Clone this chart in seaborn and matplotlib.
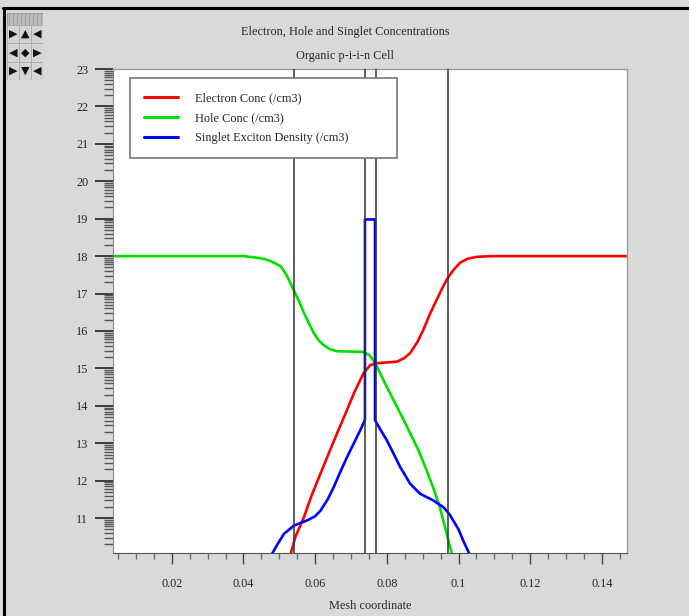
import numpy as np
import pandas as pd
import seaborn as sns
from matplotlib import pyplot as plt
from matplotlib.ticker import FixedLocator, FormatStrFormatter
from matplotlib.patches import Rectangle
from matplotlib.lines import Line2D

# hole concentration (log10 /cm3) vs mesh coordinate
hole_x = [0.0037, 0.030, 0.040, 0.043, 0.046, 0.048, 0.0504, 0.052, 0.054, 0.0555, 0.0569,
          0.0583, 0.0596, 0.061, 0.0623, 0.064, 0.066, 0.070, 0.0735, 0.0752, 0.0768,
          0.0795, 0.0819, 0.0843, 0.0865, 0.0889, 0.0911, 0.093, 0.0948, 0.0967, 0.0984]
hole_y = [18.0, 18.0, 18.0, 17.97, 17.92, 17.85, 17.73, 17.5, 17.1, 16.8, 16.48,
          16.2, 15.95, 15.75, 15.63, 15.52, 15.46, 15.45, 15.44, 15.35, 15.14,
          14.6, 14.15, 13.7, 13.27, 12.8, 12.28, 11.8, 11.29, 10.59, 9.95]

# electron concentration
elec_x = [0.0529, 0.0545, 0.0569, 0.059, 0.0615, 0.0638, 0.0661, 0.0685, 0.0708, 0.0735,
          0.0754, 0.0772, 0.080, 0.0828, 0.0848, 0.0865, 0.0885, 0.0902, 0.092, 0.0939,
          0.0955, 0.0967, 0.0985, 0.1004, 0.1025, 0.105, 0.109, 0.147]
elec_y = [9.95, 10.5, 11.03, 11.6, 12.19, 12.73, 13.26, 13.8, 14.33, 14.87,
          15.09, 15.14, 15.16, 15.18, 15.27, 15.41, 15.7, 16.03, 16.45, 16.83,
          17.15, 17.37, 17.62, 17.82, 17.93, 17.98, 18.0, 18.0]

# singlet exciton density
exc_x = [0.0474, 0.0495, 0.0513, 0.0541, 0.0578, 0.060, 0.0615, 0.0635, 0.0652, 0.067,
         0.0689, 0.0708, 0.0726, 0.0739, 0.0739, 0.0767, 0.0767, 0.078, 0.080, 0.082,
         0.0837, 0.0865, 0.0893, 0.093, 0.0958, 0.0975, 0.0985, 0.100, 0.1013, 0.1035]
exc_y = [9.95, 10.3, 10.58, 10.8, 10.94, 11.05, 11.2, 11.5, 11.83, 12.23,
         12.63, 13.0, 13.35, 13.62, 18.98, 18.98, 13.62, 13.4, 13.08, 12.7,
         12.37, 11.92, 11.65, 11.47, 11.29, 11.1, 10.94, 10.7, 10.4, 9.95]

# region boundaries
boundaries = [0.054, 0.074, 0.077, 0.097]

labels = ["Electron Conc (/cm3)", "Hole Conc (/cm3)", "Singlet Exciton Density (/cm3)"]
colors = ["#ff0000", "#00e000", "#0000ff"]

title1 = "Electron, Hole and Singlet Concentrations"
title2 = "Organic p-i-i-n Cell"
xlabel = "Mesh coordinate"

sns.set_style("white")
plt.rcParams['font.family'] = ['Liberation Serif', 'DejaVu Sans']
fs = 8.8

W, H = 689, 616
fig = plt.figure(figsize=(W / 100, H / 100), dpi=100, facecolor="#d9d9d9")
ax = fig.add_axes([113.3 / W, 1 - 553.3 / H, (627 - 113.3) / W, (553.3 - 69) / H])
ax.set_facecolor("white")

series = [(elec_x, elec_y), (hole_x, hole_y), (exc_x, exc_y)]
for (xs, ys), lab, c in zip(series, labels, colors):
    df = pd.DataFrame({"x": xs, "y": ys})
    sns.lineplot(data=df, x="x", y="y", ax=ax, color=c, linewidth=1.9,
                 estimator=None, sort=False, label=lab)

for b in boundaries:
    ax.axvline(b, color="#333333", linewidth=1.1, zorder=5)

ax.set_xlim(0.0037, 0.147)
ax.set_ylim(10.06, 23)
ax.set_xlabel("")
ax.set_ylabel("")

# ticks (lengths in points: 1 px = 0.72 pt at 100 dpi)
ax.set_xticks(np.arange(0.02, 0.141, 0.02))
ax.xaxis.set_major_formatter(FormatStrFormatter('%g'))
ax.xaxis.set_minor_locator(FixedLocator(np.arange(0.005, 0.147, 0.005)))
ax.set_yticks(range(11, 24))
logs = np.log10(np.arange(2, 10))
ax.yaxis.set_minor_locator(FixedLocator([d + l for d in range(10, 23) for l in logs]))
ax.tick_params(axis='x', which='major', direction='out', length=8, width=1, color='#444',
               labelsize=fs, pad=10, bottom=True)
ax.tick_params(axis='x', which='minor', direction='out', length=4.3, width=1, color='#666',
               bottom=True)
ax.tick_params(axis='y', which='major', direction='out', length=13, width=1.2, color='#222',
               labelsize=fs, pad=5, left=True)
ax.tick_params(axis='y', which='minor', direction='out', length=6.5, width=1, color='#555',
               left=True)

for s in ["top", "right"]:
    ax.spines[s].set_color("#999999")
    ax.spines[s].set_linewidth(1)
ax.spines["left"].set_color("#888888")
ax.spines["bottom"].set_color("#555555")

leg = ax.legend(loc="upper left", bbox_to_anchor=(130 / W, 1 - 78 / H - 0.01, (397 - 130) / W, 0.01),
                bbox_transform=fig.transFigure, mode="expand", fontsize=fs, frameon=True,
                fancybox=False, edgecolor="#777777", framealpha=1, handlelength=2.8,
                handletextpad=1.4, labelspacing=0.67, borderpad=1.15, borderaxespad=0)
leg.get_frame().set_linewidth(1.2)
for line in leg.get_lines():
    line.set_linewidth(2.2)

fig.text(345 / W, 1 - 32 / H, title1, ha="center", va="center", fontsize=fs)
fig.text(345 / W, 1 - 56 / H, title2, ha="center", va="center", fontsize=fs)
fig.text(370 / W, 1 - 606 / H, xlabel, ha="center", va="center", fontsize=fs)

# window border lines
fig.add_artist(Line2D([3 / W, 1], [1 - 8 / H, 1 - 8 / H], color="black", linewidth=2.2))
fig.add_artist(Line2D([4 / W, 4 / W], [0, 1 - 8 / H], color="black", linewidth=2.2))

# little zoom/pan widget in the corner
wax = fig.add_axes([7 / W, 1 - 80 / H, 36 / W, 67 / H])
wax.set_xlim(0, 3)
wax.set_ylim(0, 4)
wax.axis("off")
wax.add_patch(Rectangle((0, 3.3), 3, 0.7, facecolor="#bdbdbd", edgecolor="#999999", lw=0.8))
for i in np.linspace(0.2, 2.8, 9):
    wax.plot([i, i], [3.35, 3.95], color="#999999", lw=0.6)
glyphs = [["▶", "▲", "◀"], ["◀", "◆", "▶"], ["▶", "▼", "◀"]]
for r, row in enumerate(glyphs):
    for c, g in enumerate(row):
        y0 = 2.2 - r * 1.1
        wax.add_patch(Rectangle((c, y0), 1, 1.1, facecolor="#d4d4d4", edgecolor="#aaaaaa", lw=0.6))
        wax.text(c + 0.5, y0 + 0.55, g, ha="center", va="center", fontsize=8,
                 color="#111111", family="DejaVu Sans")

fig.savefig("out.png", dpi=100, facecolor=fig.get_facecolor())
